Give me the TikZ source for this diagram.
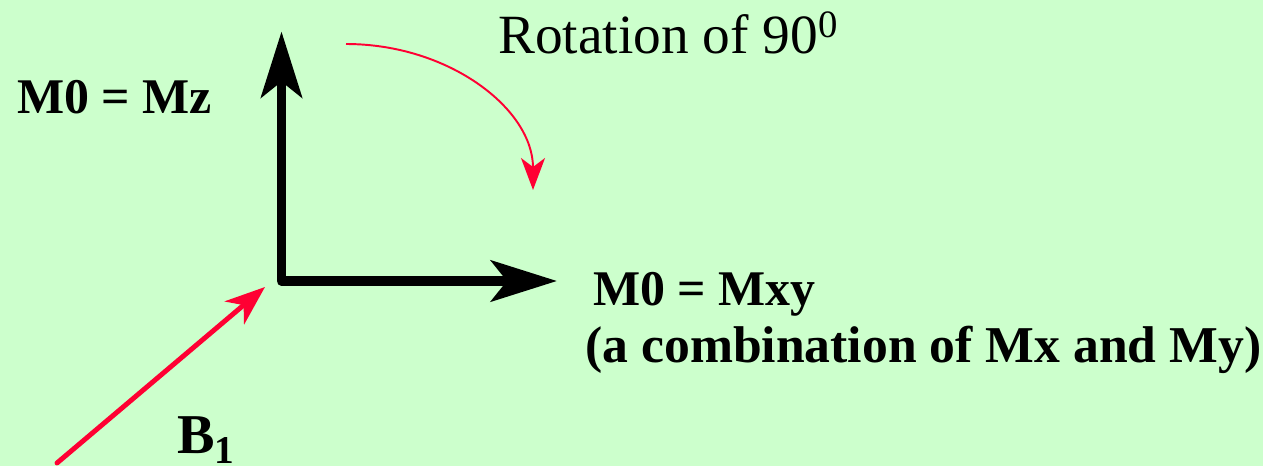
\documentclass[tikz,border=0pt]{standalone}
\usepackage{fontspec}
\setmainfont{Liberation Serif}
\usepackage{xcolor}
\usepackage{tikz}
\usetikzlibrary{arrows.meta}

\definecolor{bgGreen}{HTML}{CCFFCC}
\definecolor{fieldRed}{HTML}{FF0033}

\begin{document}
\begin{tikzpicture}[
        moment/.style={line width=5.5pt, line join=round, black,
            {Stealth[length=13.2mm, width=8.2mm, inset=3.2mm]}-{Stealth[length=13.2mm, width=8.2mm, inset=3.2mm]}},
        field/.style={line width=2.8pt, fieldRed, line cap=round, -{Stealth[length=8mm, width=6mm, inset=2.4mm]}},
        turn/.style={line width=1.1pt, fieldRed, -{Stealth[length=6.4mm, width=4.8mm, inset=1.8mm]}},
        label/.style={anchor=base west, inner sep=0pt, font=\fontsize{28.4}{34}\selectfont\bfseries},
        title/.style={anchor=base west, inner sep=0pt, font=\fontsize{31.5}{37}\selectfont}
    ]
        \fill[bgGreen] (0,0) rectangle (25.26,-9.32);
        \useasboundingbox (0,0) rectangle (25.26,-9.32);

        \coordinate (origin) at (5.63,-5.62);
        \coordinate (tipz) at (5.63,-0.63);
        \coordinate (tipxy) at (11.14,-5.62);
        \coordinate (b1start) at (1.14,-9.26);
        \coordinate (b1end) at (5.30,-5.74);
        \coordinate (rotstart) at (6.92,-0.88);
        \coordinate (rotend) at (10.66,-3.80);

        \node[label] (mz) at (0.34,-2.26) {M0 = Mz};
        \node[title] (rotation) at (9.96,-1.06) {Rotation of 90\textsuperscript{0}};
        \node[label] (mxy) at (11.86,-6.10) {M0 = Mxy};
        \node[label, font=\fontsize{29.4}{35}\selectfont\bfseries] (mxynote) at (11.70,-7.24) {(a combination of Mx and My)};
        \node[label, font=\fontsize{32}{38}\selectfont\bfseries] (b1) at (3.54,-9.06) {B\textsubscript{1}};

        \draw[moment] (tipz) -- (origin) -- (tipxy);
        \draw[field] (b1start) -- (b1end);
        \draw[turn] (rotstart) .. controls (8.98,-0.88) and (10.66,-2.18) .. (rotend);
    \end{tikzpicture}
\end{document}
